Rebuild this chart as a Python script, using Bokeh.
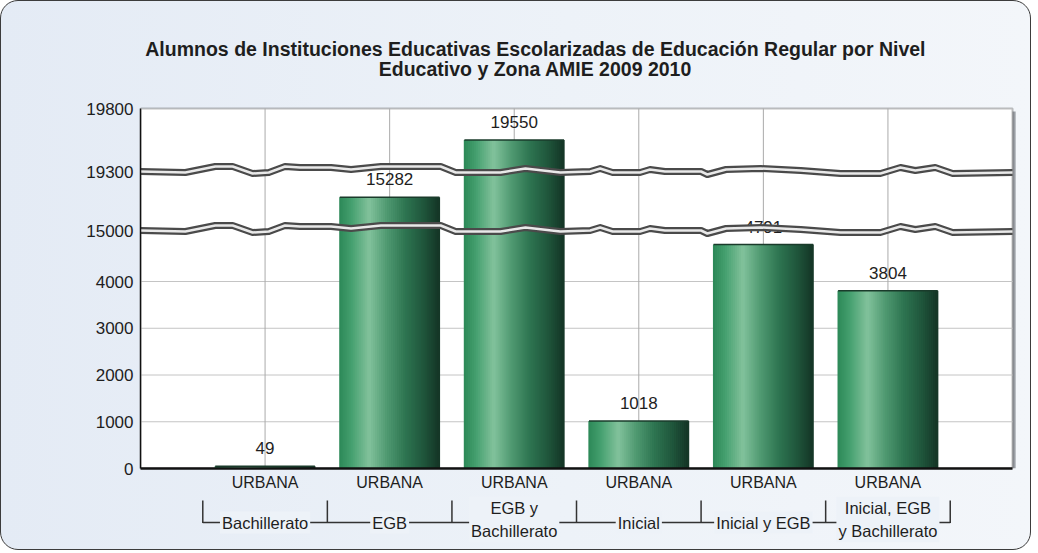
from bokeh.plotting import figure
from bokeh.layouts import column
from bokeh.models import Range1d, FixedTicker, BoxAnnotation, Label
from bokeh.embed import file_html
from bokeh.resources import INLINE
from bokeh.core.properties import value

# ---------------- data ----------------
title_lines = [
    "Alumnos de Instituciones Educativas Escolarizadas de Educación Regular por Nivel",
    "Educativo y Zona AMIE 2009 2010",
]
niveles = ["Bachillerato", "EGB", "EGB y\nBachillerato", "Inicial",
           "Inicial y EGB", "Inicial, EGB\ny Bachillerato"]
zonas = ["URBANA", "URBANA", "URBANA", "URBANA", "URBANA", "URBANA"]
alumnos = [49, 15282, 19550, 1018, 4791, 3804]
y_tick_values = [0, 1000, 2000, 3000, 4000, 15000, 19300, 19800]
grid_values = [1000, 2000, 3000, 4000]
break_values = [15000, 19300]

# ---------------- broken-scale definition ----------------
# (value start, display start, display units per value unit)
SEGMENTS = [(0, 0.0, 0.04675), (15000, 238.0, 0.118), (19300, 297.0, 0.126)]


def to_display(v):
    for lo, start, k in reversed(SEGMENTS):
        if v >= lo:
            return start + (v - lo) * k
    return 0.0


FONT = "Liberation Sans"
TXT = "#1e1e1e"
BG_LABEL = "#edf2f8"
LEFT, RIGHT, FW = 139, 13, 877
N_CAT = len(alumnos)
X_END = N_CAT + 1            # plot area spans 0 .. 7 (category units)
X_RANGE = Range1d(0, X_END + 0.04)
TITLE_X = 3.17               # title centre, in category units
SHADOW_X, SHADOW_Y = 0.025, 3

xs = [i + 1 for i in range(N_CAT)]
tops = [to_display(v) for v in alumnos]
y_top = to_display(max(y_tick_values))


def base_fig(frame_height, y_range, **kw):
    f = figure(frame_width=FW, frame_height=frame_height, x_range=X_RANGE,
               y_range=y_range, output_backend="svg", toolbar_location=None,
               min_border_left=LEFT, min_border_right=RIGHT,
               background_fill_color=None, border_fill_color=None,
               outline_line_color=None, **kw)
    return f


# ---------------- title ----------------
pt = base_fig(95, Range1d(95, 0), min_border_top=0, min_border_bottom=0,
              x_axis_location=None, y_axis_location=None)
pt.xgrid.visible = False
pt.ygrid.visible = False
pt.text(x=[TITLE_X, TITLE_X], y=[47, 67], text=title_lines, text_align="center",
        text_baseline="middle", text_font=value(FONT), text_font_size="19.5px",
        text_font_style="bold", text_color=TXT)

# ---------------- main chart ----------------
p = base_fig(362, Range1d(0, 362), min_border_top=10, min_border_bottom=26)

p.add_layout(BoxAnnotation(left=SHADOW_X, right=X_END + SHADOW_X, bottom=0,
                           top=y_top - SHADOW_Y, fill_color="#9a9ea4",
                           fill_alpha=1.0, line_color=None, level="image"))
p.add_layout(BoxAnnotation(left=0, right=X_END, bottom=0, top=y_top,
                           fill_color="white", fill_alpha=1.0,
                           line_color="#2a2a2a", line_width=2, level="image"))

# y axis
p.yaxis.ticker = FixedTicker(ticks=[to_display(v) for v in y_tick_values])
p.yaxis.major_label_overrides = {to_display(v): str(v) for v in y_tick_values}
p.yaxis.bounds = (0, y_top)
p.yaxis.major_tick_in = 0
p.yaxis.major_tick_out = 0
p.yaxis.minor_tick_out = 0
p.yaxis.minor_tick_in = 0
p.yaxis.major_label_standoff = 7
p.yaxis.axis_line_color = "#111111"
p.yaxis.axis_line_width = 1.5
p.yaxis.major_label_text_font = FONT
p.yaxis.major_label_text_font_size = "17px"
p.yaxis.major_label_text_color = TXT

# x axis
p.xaxis.ticker = FixedTicker(ticks=xs)
p.xaxis.major_label_overrides = {x: z for x, z in zip(xs, zonas)}
p.xaxis.bounds = (0, X_END)
p.xaxis.major_tick_in = 0
p.xaxis.major_tick_out = 0
p.xaxis.minor_tick_out = 0
p.xaxis.minor_tick_in = 0
p.xaxis.major_label_standoff = 5
p.xaxis.axis_line_color = "#111111"
p.xaxis.axis_line_width = 2.5
p.xaxis.major_label_text_font = FONT
p.xaxis.major_label_text_font_size = "16px"
p.xaxis.major_label_text_color = TXT

# grids (limited to the plot area)
p.xgrid.visible = False
p.ygrid.visible = False
gy = [to_display(v) for v in grid_values]
p.segment(x0=[0] * len(gy), y0=gy, x1=[X_END] * len(gy), y1=gy,
          line_color="#c4c4c4", line_width=1)
p.segment(x0=xs, y0=[0] * len(xs), x1=xs, y1=[y_top] * len(xs),
          line_color="#aaaaaa", line_width=1)

# bars with cylinder shading (vertical strips)
stops = [(0.0, (0x2c, 0x88, 0x57)), (0.12, (0x44, 0x9f, 0x6e)),
         (0.30, (0x82, 0xc2, 0x9c)), (0.48, (0x4f, 0x99, 0x71)),
         (0.66, (0x2e, 0x75, 0x51)), (0.85, (0x1f, 0x55, 0x3b)),
         (1.0, (0x14, 0x35, 0x26))]


def shade(t):
    for (t0, c0), (t1, c1) in zip(stops[:-1], stops[1:]):
        if t0 <= t <= t1:
            f = (t - t0) / (t1 - t0)
            return "#%02x%02x%02x" % tuple(int(round(a + (b - a) * f)) for a, b in zip(c0, c1))
    return "#%02x%02x%02x" % stops[-1][1]


BAR_W = 0.8
N = 50
sx, stop_, sw, sc = [], [], [], []
for x, t in zip(xs, tops):
    for k in range(N):
        frac = (k + 0.5) / N
        sx.append(x - BAR_W / 2 + frac * BAR_W)
        stop_.append(t)
        sw.append(BAR_W / N * 1.6)
        sc.append(shade(frac))
p.vbar(x=sx, top=stop_, bottom=0, width=sw, fill_color=sc, line_color=None)
p.segment(x0=[x - BAR_W / 2 for x in xs], y0=tops, x1=[x + BAR_W / 2 for x in xs],
          y1=tops, line_color="#1a3b2b", line_width=1.5)

# value labels
p.text(x=xs, y=tops, text=[str(v) for v in alumnos], text_align="center",
       text_baseline="middle", y_offset=-18, text_font=value(FONT),
       text_font_size="17px", text_color=TXT)

# scale-break wavy lines
wave_x = [0, 0.36, 0.60, 0.74, 0.90, 1.03, 1.16, 1.28, 1.53, 1.69, 1.93, 2.41,
          2.53, 2.89, 3.09, 3.37, 3.61, 3.69, 3.79, 4.01, 4.09, 4.21, 4.50, 4.55,
          4.70, 4.98, 5.30, 5.62, 5.94, 6.10, 6.22, 6.38, 6.52, 7.0]
wave_dy = [0, 1, -5, -5, 2, 1, -5, -4, -4, -2, -5, -5, 1, 1, -3, 1, 0, -3, 1, 1,
           -2, 0, 0, 3, -2, -3, -1, 2, 2, -4, -1, -4, 2, 1]
for b in break_values:
    yb = to_display(b)
    wy = [yb - d for d in wave_dy]
    p.line(wave_x, wy, line_color="#4a4a4a", line_width=7, line_join="round")
    p.line(wave_x, wy, line_color="#e9e9e9", line_width=2.5, line_join="round")

# ---------------- group labels with brackets ----------------
pb = base_fig(55, Range1d(-81, -26), min_border_top=0, min_border_bottom=0,
              x_axis_location=None, y_axis_location=None)
pb.xgrid.visible = False
pb.ygrid.visible = False
bounds_x = [x - 0.5 for x in xs] + [xs[-1] + 0.5]
pb.segment(x0=bounds_x, y0=[-32] * len(bounds_x), x1=bounds_x,
           y1=[-54.5] * len(bounds_x), line_color="#333333", line_width=1.5)
pb.segment(x0=[bounds_x[0]], y0=[-54], x1=[bounds_x[-1]], y1=[-54],
           line_color="#333333", line_width=1.5)
label_y = [-54 + 3 * n.count("\n") for n in niveles]
pb.text(x=xs, y=label_y, text=niveles, text_align="center",
        text_baseline="middle", text_font=value(FONT), text_font_size="16.5px",
        text_color=TXT, text_line_height=1.3,
        background_fill_color=BG_LABEL, padding=2)

layout = column(pt, p, pb, spacing=0,
                styles={"border": "1px solid #3c3c3c", "border-radius": "18px",
                        "background": "linear-gradient(90deg, #e4ebf5 0%, #edf2f8 55%, #f3f6fa 100%)"})

open("out.html", "w").write(file_html(layout, INLINE))
